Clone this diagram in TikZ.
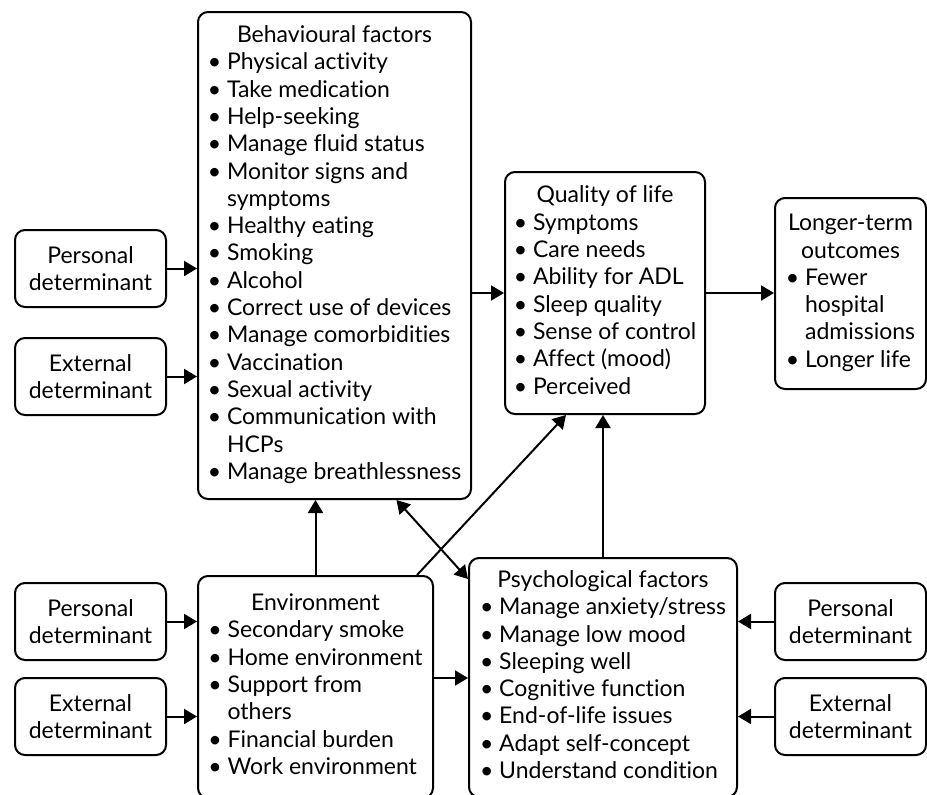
\documentclass[tikz,border=0pt]{standalone}
\usepackage{fontspec}
\setmainfont[Ligatures=NoCommon]{Lato}
\usetikzlibrary{arrows.meta}
\newcommand{\itm}{\textbullet\ }
\newcommand{\cnt}{\phantom{\textbullet\ }}
\newcommand{\ttl}[1]{\multicolumn{1}{@{}c@{}}{#1}}
\begin{document}
\begin{tikzpicture}
	% factors model: determinants feed behaviour, environment and psychology, which feed quality of life
	[x=0.5pt,y=-0.5pt,
	 box/.style={draw,rounded corners=5pt,line width=1pt,inner sep=0pt,font=\fontsize{11.5}{13.65}\selectfont},
	 det/.style={box,align=center,minimum width=75.5pt,minimum height=38.5pt},
	 arr/.style={line width=1pt,-{Triangle[length=6.5pt,width=7.5pt]}},
	 dbl/.style={line width=1pt,{Triangle[length=6.5pt,width=7.5pt]}-{Triangle[length=6.5pt,width=7.5pt]}}]
	\useasboundingbox (0,0) rectangle (927,794);

	\node[box,minimum width=136.5pt,minimum height=243.5pt] (behav) at (334.5,255.5) {\begin{tabular}{@{}l@{}}
		\ttl{Behavioural factors}\\ \itm Physical activity\\ \itm Take medication\\ \itm Help-seeking\\
		\itm Manage fluid status\\ \itm Monitor signs and\\ \cnt symptoms\\ \itm Healthy eating\\
		\itm Smoking\\ \itm Alcohol\\ \itm Correct use of devices\\ \itm Manage comorbidities\\
		\itm Vaccination\\ \itm Sexual activity\\ \itm Communication with\\ \cnt HCPs\\
		\itm Manage breathlessness\end{tabular}};
	\node[box,minimum width=100pt,minimum height=121pt] (qol) at (605,293) {\begin{tabular}{@{}l@{}}
		\ttl{Quality of life}\\ \itm Symptoms\\ \itm Care needs\\ \itm Ability for ADL\\
		\itm Sleep quality\\ \itm Sense of control\\ \itm Affect (mood)\\ \itm Perceived\end{tabular}};
	\node[box,minimum width=75.5pt,minimum height=95.5pt] (longer) at (850.5,293.5) {\begin{tabular}{@{}l@{}}
		\ttl{Longer-term}\\ \ttl{outcomes}\\ \itm Fewer\\ \cnt hospital\\ \cnt admissions\\
		\itm Longer life\end{tabular}};
	\node[box,minimum width=117.5pt,minimum height=111pt] (env) at (315.5,687) {\begin{tabular}{@{}l@{}}
		\ttl{Environment}\\ \itm Secondary smoke\\ \itm Home environment\\ \itm Support from\\
		\cnt others\\ \itm Financial burden\\ \itm Work environment\end{tabular}};
	\node[box,minimum width=134pt,minimum height=119.5pt] (psych) at (603,677.5) {\begin{tabular}{@{}l@{}}
		\ttl{Psychological factors}\\ \itm Manage anxiety/stress\\ \itm Manage low mood\\
		\itm Sleeping well\\ \itm Cognitive function\\ \itm End-of-life issues\\
		\itm Adapt self-concept\\ \itm Understand condition\end{tabular}};

	\node[det] (pdbehav) at (90.5,268.5) {Personal\\determinant};
	\node[det] (edbehav) at (90.5,376.5) {External\\determinant};
	\node[det] (pdenv) at (90.5,621.5) {Personal\\determinant};
	\node[det] (edenv) at (90.5,716.5) {External\\determinant};
	\node[det] (pdpsych) at (850.5,621.5) {Personal\\determinant};
	\node[det] (edpsych) at (850.5,716.5) {External\\determinant};

	\draw[arr] (pdbehav.east) -- (pdbehav.east -| behav.west);
	\draw[arr] (edbehav.east) -- (edbehav.east -| behav.west);
	\draw[arr] (pdenv.east) -- (pdenv.east -| env.west);
	\draw[arr] (edenv.east) -- (edenv.east -| env.west);
	\draw[arr] (pdpsych.west) -- (pdpsych.west -| psych.east);
	\draw[arr] (edpsych.west) -- (edpsych.west -| psych.east);

	\draw[arr] (qol.west -| behav.east) -- (qol.west);
	\draw[arr] (qol.east) -- (qol.east -| longer.west);
	\draw[arr] (env.north) -- (env.north |- behav.south);
	\draw[arr] (psych.north) -- (psych.north |- qol.south);
	\draw[arr] ([yshift=4.5pt]env.east) -- ([yshift=4.5pt]env.east -| psych.west);
	\draw[arr] ([xshift=50.75pt]env.north) -- ([xshift=-19.5pt]qol.south);
	\draw[dbl] ([xshift=31pt]behav.south) -- ([yshift=-11pt]psych.north west);
\end{tikzpicture}
\end{document}
